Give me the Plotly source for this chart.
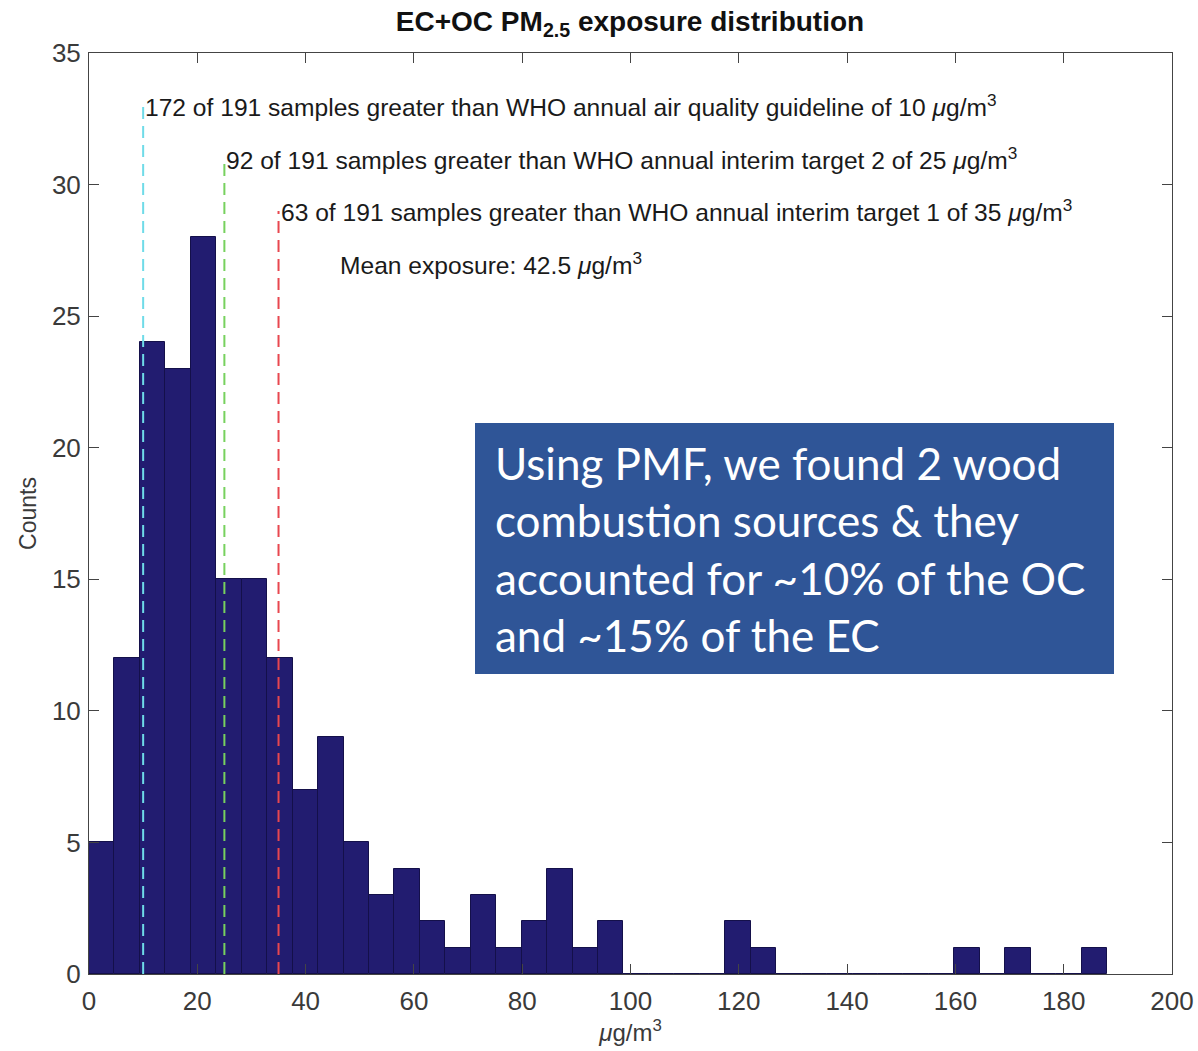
import numpy as np
import plotly.graph_objects as go

# ---- data ----
bin_width = 4.7
bin_start = 0.0
counts = [5, 12, 24, 23, 28, 15, 15, 12, 7, 9,
          5, 3, 4, 2, 1, 3, 1, 2, 4, 1,
          2, 0, 0, 0, 0, 2, 1, 0, 0, 0,
          0, 0, 0, 0, 1, 0, 1, 0, 0, 1]

thresholds = [10, 25, 35]
threshold_tops = [33, 31, 29]
threshold_colors = ["#6fdbe8", "#77d15e", "#e8474f"]
threshold_texts = [
    "172 of 191 samples greater than WHO annual air quality guideline of 10 <i>μ</i>g/m<sup>3</sup>",
    "92 of 191 samples greater than WHO annual interim target 2 of 25 <i>μ</i>g/m<sup>3</sup>",
    "63 of 191 samples greater than WHO annual interim target 1 of 35 <i>μ</i>g/m<sup>3</sup>",
]
mean_text = "Mean exposure: 42.5 <i>μ</i>g/m<sup>3</sup>"
mean_pos = (46, 27)

box_lines = [
    "Using PMF, we found 2 wood",
    "combustion sources & they",
    "accounted for ~10% of the OC",
    "and ~15% of the EC",
]

x_ticks = list(range(0, 201, 20))
y_ticks = list(range(0, 36, 5))

# ---- figure ----
centers = bin_start + (np.arange(len(counts)) + 0.5) * bin_width

fig = go.Figure()
fig.add_trace(go.Bar(
    x=centers, y=counts, width=bin_width,
    marker=dict(color="#221c70", line=dict(color="#14104a", width=1)),
    showlegend=False, hoverinfo="skip",
))

for xv, top, col in zip(thresholds, threshold_tops, threshold_colors):
    fig.add_trace(go.Scatter(
        x=[xv, xv], y=[0, top], mode="lines",
        line=dict(color=col, width=2, dash="12px,7px"),
        showlegend=False, hoverinfo="skip",
    ))

font_main = "Liberation Sans, Arial, sans-serif"
ann_font = dict(family=font_main, size=24.6, color="#1a1a1a")
annotations = []
for xv, top, txt in zip(thresholds, threshold_tops, threshold_texts):
    annotations.append(dict(x=xv, y=top, xref="x", yref="y", text=txt,
                            showarrow=False, xanchor="left", yanchor="middle",
                            font=ann_font))
annotations.append(dict(x=mean_pos[0], y=mean_pos[1], xref="x", yref="y", text=mean_text,
                        showarrow=False, xanchor="left", yanchor="middle",
                        font=ann_font))

# text box
L, R, T, B = 89, 1172, 53, 974
def px(x):
    return (x - L) / (R - L)
def py(y):
    return (B - y) / (B - T)

line_centers = [463, 520, 578, 635]
for txt, yc in zip(box_lines, line_centers):
    annotations.append(dict(x=px(493), y=py(yc), xref="paper", yref="paper", text=txt,
                            showarrow=False, xanchor="left", yanchor="middle",
                            font=dict(family="Lato, Open Sans, sans-serif", size=44, color="white")))

fig.add_shape(type="rect", xref="paper", yref="paper",
              x0=px(475), x1=px(1114), y0=py(674), y1=py(423),
              fillcolor="#2f5597", line=dict(width=0), layer="above")

fig.update_layout(
    width=1198, height=1051,
    margin=dict(l=L, r=1198 - R, t=T, b=1051 - B, autoexpand=False),
    paper_bgcolor="white", plot_bgcolor="white",
    bargap=0,
    title=dict(text="<b>EC+OC PM<sub>2.5</sub> exposure distribution</b>",
               x=px(630), xref="paper", y=1 - 21 / 1051, yanchor="middle",
               font=dict(family=font_main, size=28, color="#111")),
    annotations=annotations,
    font=dict(family=font_main, size=26, color="#333"),
)
fig.update_xaxes(range=[0, 200], tickvals=x_ticks, ticks="inside", ticklen=10,
                 tickcolor="#444", showline=True, linecolor="#444", linewidth=1,
                 mirror="ticks", showgrid=False, zeroline=False, automargin=False,
                 tickfont=dict(size=26, color="#3a3a3a"), ticklabelstandoff=4,
                 title=dict(text="<i>μ</i>g/m<sup>3</sup>", font=dict(size=24, color="#3a3a3a"), standoff=2))
fig.update_yaxes(range=[0, 35], tickvals=y_ticks, ticks="inside", ticklen=10,
                 tickcolor="#444", showline=True, linecolor="#444", linewidth=1,
                 mirror="ticks", showgrid=False, zeroline=False, automargin=False,
                 tickfont=dict(size=26, color="#3a3a3a"), ticklabelstandoff=2,
                 title=dict(text="Counts", font=dict(size=23, color="#3a3a3a"), standoff=8))

fig.write_html("out.html")
